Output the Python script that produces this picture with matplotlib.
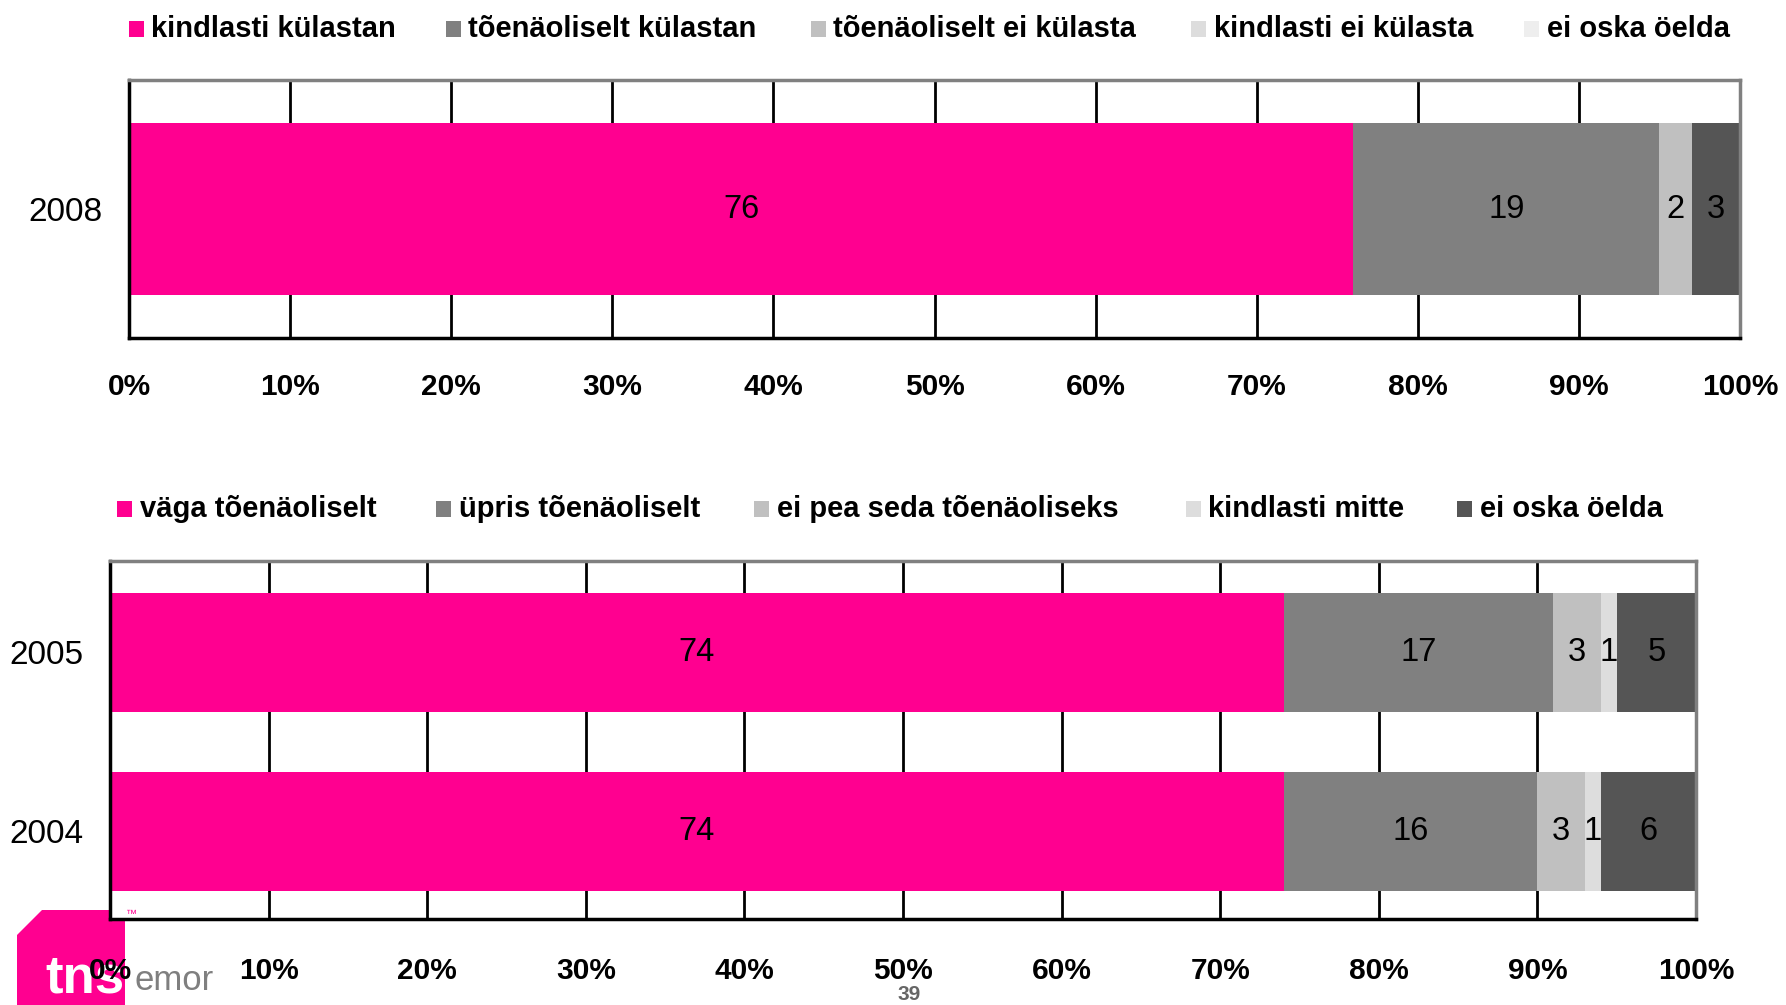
import matplotlib
matplotlib.use("Agg")
import matplotlib.pyplot as plt
from matplotlib.patches import Rectangle, Polygon
import numpy as np

plt.rcParams['font.family'] = ['Liberation Sans', 'DejaVu Sans']

# ---------------- data ----------------
top_years = ["2008"]
top_series = ["kindlasti külastan", "tõenäoliselt külastan", "tõenäoliselt ei külasta",
              "kindlasti ei külasta", "ei oska öelda"]
top_values = {
    "kindlasti külastan": [76],
    "tõenäoliselt külastan": [19],
    "tõenäoliselt ei külasta": [2],
    "kindlasti ei külasta": [0],
    "ei oska öelda": [3],
}

bot_years = ["2004", "2005"]
bot_series = ["väga tõenäoliselt", "üpris tõenäoliselt", "ei pea seda tõenäoliseks",
              "kindlasti mitte", "ei oska öelda"]
bot_values = {
    "väga tõenäoliselt": [74, 74],
    "üpris tõenäoliselt": [16, 17],
    "ei pea seda tõenäoliseks": [3, 3],
    "kindlasti mitte": [1, 1],
    "ei oska öelda": [6, 5],
}

tick_vals = list(range(0, 101, 10))
tick_labels = [f"{v}%" for v in tick_vals]

PINK = "#ff0090"
bar_colors = [PINK, "#808080", "#c0c0c0", "#dddddd", "#555555"]
top_legend_colors = [PINK, "#808080", "#c0c0c0", "#dddddd", "#eeeeee"]
bot_legend_colors = [PINK, "#808080", "#c0c0c0", "#dddddd", "#555555"]

W, H = 1786, 1005
fig = plt.figure(figsize=(W / 100, H / 100), dpi=100)


def fx(px):
    return px / W


def fy(py):
    return 1 - py / H


def style_axes(ax, years, ylim, xpad):
    ax.set_xlim(0, 100)
    ax.set_ylim(*ylim)
    ax.set_xticks(tick_vals)
    ax.set_xticklabels(tick_labels, fontsize=21.5, fontweight='bold')
    ax.set_yticks(range(len(years)))
    ax.set_yticklabels(years, fontsize=24)
    ax.tick_params(axis='x', length=0, pad=xpad)
    ax.tick_params(axis='y', length=0, pad=19)
    ax.grid(axis='x', color='black', linewidth=2)
    ax.set_axisbelow(True)
    ax.spines['left'].set_color('black')
    ax.spines['bottom'].set_color('black')
    ax.spines['top'].set_color('#808080')
    ax.spines['right'].set_color('#808080')
    for s in ax.spines.values():
        s.set_linewidth(2.5)


def draw_bars(ax, years, series, values, height):
    y = np.arange(len(years))
    left = np.zeros(len(years))
    for name, col in zip(series, bar_colors):
        vals = np.array(values[name], dtype=float)
        ax.barh(y, vals, left=left, height=height, color=col, edgecolor='none', zorder=2)
        for yi, v, l in zip(y, vals, left):
            if v > 0:
                ax.text(l + v / 2, yi, f"{int(v)}", ha='center', va='center',
                        fontsize=23.5, color='black', zorder=3)
        left += vals


# top chart
ax1 = fig.add_axes([fx(129), fy(338), fx(1740) - fx(129), fy(80) - fy(338)])
draw_bars(ax1, top_years, top_series, top_values, 0.667)
style_axes(ax1, top_years, (-0.5, 0.5), 25)

# bottom chart
ax2 = fig.add_axes([fx(110), fy(919), fx(1696) - fx(110), fy(561) - fy(919)])
draw_bars(ax2, bot_years, bot_series, bot_values, 0.667)
style_axes(ax2, bot_years, (-0.49, 1.51), 27)


# legends (manual, as in reference)
def legend_row(names, colors, swatch_x, text_x, yc):
    for n, c, sx, tx in zip(names, colors, swatch_x, text_x):
        fig.patches.append(Rectangle((fx(sx), fy(yc + 8)), fx(15), 16 / H,
                                     transform=fig.transFigure, facecolor=c,
                                     edgecolor='none'))
        fig.text(fx(tx), fy(yc), n, ha='left', va='center', fontsize=21,
                 fontweight='bold', color='black')


legend_row(top_series, top_legend_colors,
           [129, 446, 811, 1191, 1524], [151, 468, 833, 1214, 1547], 29)
legend_row(bot_series, bot_legend_colors,
           [117, 436, 754, 1186, 1457], [140, 459, 777, 1208, 1480], 509)

# logo
logo = Polygon([(fx(17), fy(1005)), (fx(17), fy(935)), (fx(42), fy(910)),
                (fx(125), fy(910)), (fx(125), fy(1005))], closed=True,
               transform=fig.transFigure, facecolor=PINK, edgecolor='none', zorder=-5)
fig.patches.append(logo)
fig.text(fx(45), fy(992), "tns", fontsize=38, fontweight='bold', color='white',
         ha='left', va='baseline', zorder=-4)
fig.text(fx(134), fy(990), "emor", fontsize=25, color='#7f7f7f',
         ha='left', va='baseline')
fig.text(fx(126), fy(909), "™", fontsize=8, color=PINK, ha='left', va='top')
fig.text(fx(909), fy(994), "39", fontsize=15, fontweight='bold', color='#666666',
         ha='center', va='center')

fig.savefig("out.png", dpi=100)
